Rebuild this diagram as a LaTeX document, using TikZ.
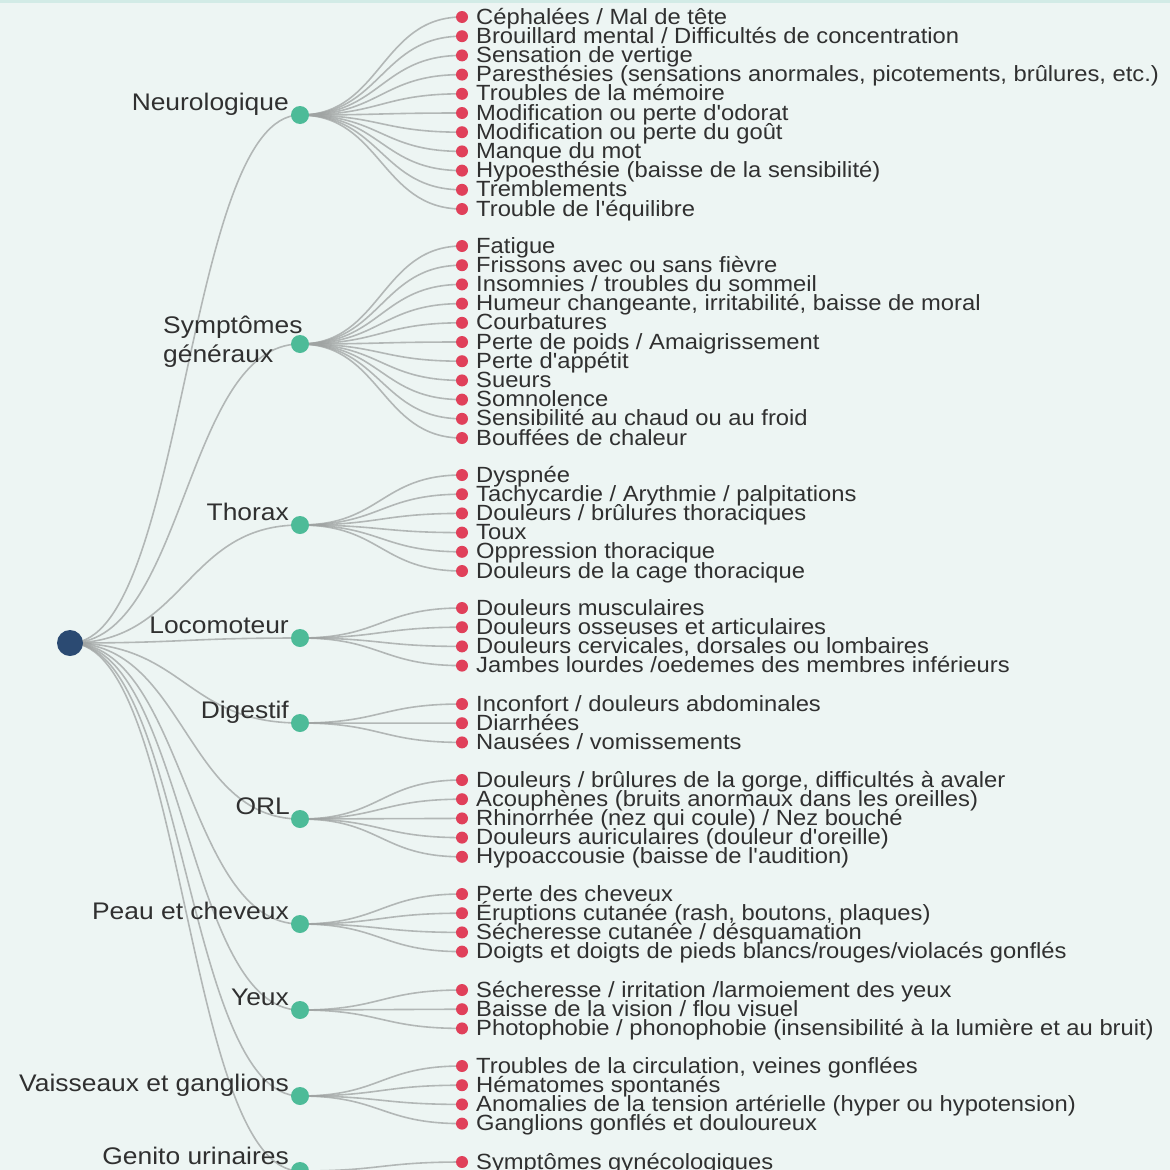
\documentclass[tikz,border=0pt]{standalone}
\usepackage{fontspec}
\setmainfont{Liberation Sans}
\newfontfamily\leaffont[FakeStretch=1.08]{Liberation Sans}
\newfontfamily\catfont[FakeStretch=1.1]{Liberation Sans}
\usetikzlibrary{calc}

\definecolor{bgmint}{HTML}{EDF5F3}
\definecolor{topband}{HTML}{D2EBE6}
\definecolor{rootblue}{HTML}{2B4A72}
\definecolor{catgreen}{HTML}{4DBB98}
\definecolor{leafred}{HTML}{E0405A}
\definecolor{txtgray}{HTML}{303030}
\definecolor{linkgray}{HTML}{9FA3A2}

\pgfdeclarelayer{bg}
\pgfdeclarelayer{links}
\pgfsetlayers{bg,links,main}

\tikzset{
  rootdot/.style={circle, fill=rootblue, minimum size=26pt, inner sep=0pt},
  catdot/.style={circle, fill=catgreen, minimum size=18pt, inner sep=0pt},
  leafdot/.style={circle, fill=leafred, minimum size=12pt, inner sep=0pt},
  leaftext/.style={anchor=base west, inner sep=0pt, text=txtgray,
    font=\leaffont\fontsize{22}{22}\selectfont},
  cattext/.style={anchor=base east, inner sep=0pt, text=txtgray,
    font=\catfont\fontsize{24}{24}\selectfont},
  link/.style={draw=linkgray, line width=1.6pt, opacity=.75},
}

% horizontal tree link: cubic curve with both controls at the middle x
\newcommand\treelink[2]{%
  \draw[link] let \p1=(#1.center), \p2=(#2.center) in
    (\p1) .. controls ({(\x1+\x2)/2},\y1) and ({(\x1+\x2)/2},\y2) .. (\p2);}

% a column of leaves hanging from one category node
\newcommand\leafgroup[3]{%
  \foreach \lt [count=\li] in {#3} {
    \pgfmathsetmacro\ly{#2+(\li-1)*19.2}
    \node[leafdot] (#1-\li) at (462,\ly) {};
    \node[leaftext] (#1-\li-t) at (476,\ly+7) {\lt};
    \begin{pgfonlayer}{links}\treelink{#1}{#1-\li}\end{pgfonlayer}
  }}

\begin{document}
\begin{tikzpicture}[x=1pt, y=-1pt]
\useasboundingbox (0,0) rectangle (1170,1170);
\begin{pgfonlayer}{bg}
  \fill[bgmint] (0,0) rectangle (1170,1170);
  \fill[topband] (0,0) rectangle (1170,2.5);
\end{pgfonlayer}

% root and categories
\node[rootdot] (root) at (70,643) {};
\node[catdot] (neu) at (300,115) {};
\node[catdot] (sym) at (300,344) {};
\node[catdot] (tho) at (300,525) {};
\node[catdot] (loc) at (300,638) {};
\node[catdot] (dig) at (300,723) {};
\node[catdot] (orl) at (300,819) {};
\node[catdot] (pea) at (300,924) {};
\node[catdot] (yeu) at (300,1010) {};
\node[catdot] (vai) at (300,1096) {};
\node[catdot] (gen) at (300,1171) {};

\node[cattext] (neu-t) at (289,110) {Neurologique};
\node[cattext, anchor=base west] (sym-t1) at (163,333) {Symptômes};
\node[cattext, anchor=base west] (sym-t2) at (163,362) {généraux};
\node[cattext] (tho-t) at (289,520) {Thorax};
\node[cattext] (loc-t) at (289,633) {Locomoteur};
\node[cattext] (dig-t) at (289,718) {Digestif};
\node[cattext] (orl-t) at (290,814) {ORL};
\node[cattext] (pea-t) at (289,919) {Peau et cheveux};
\node[cattext] (yeu-t) at (289,1005) {Yeux};
\node[cattext] (vai-t) at (289,1091) {Vaisseaux et ganglions};
\node[cattext] (gen-t) at (289,1164) {Genito urinaires};

\begin{pgfonlayer}{links}
  \foreach \c in {neu,sym,tho,loc,dig,orl,pea,yeu,vai,gen} {\treelink{root}{\c}}
\end{pgfonlayer}

% leaves
\leafgroup{neu}{17}{Céphalées / Mal de tête,
  Brouillard mental / Difficultés de concentration,
  Sensation de vertige,
  {Paresthésies (sensations anormales, picotements, brûlures, etc.)},
  Troubles de la mémoire,
  Modification ou perte d'odorat,
  Modification ou perte du goût,
  Manque du mot,
  Hypoesthésie (baisse de la sensibilité),
  Tremblements,
  Trouble de l'équilibre}

\leafgroup{sym}{246}{Fatigue,
  Frissons avec ou sans fièvre,
  Insomnies / troubles du sommeil,
  {Humeur changeante, irritabilité, baisse de moral},
  Courbatures,
  Perte de poids / Amaigrissement,
  Perte d'appétit,
  Sueurs,
  Somnolence,
  Sensibilité au chaud ou au froid,
  Bouffées de chaleur}

\leafgroup{tho}{475}{Dyspnée,
  Tachycardie / Arythmie / palpitations,
  Douleurs / brûlures thoraciques,
  Toux,
  Oppression thoracique,
  Douleurs de la cage thoracique}

\leafgroup{loc}{608}{Douleurs musculaires,
  Douleurs osseuses et articulaires,
  {Douleurs cervicales, dorsales ou lombaires},
  Jambes lourdes /oedemes des membres inférieurs}

\leafgroup{dig}{704}{Inconfort / douleurs abdominales,
  Diarrhées,
  Nausées / vomissements}

\leafgroup{orl}{780}{{Douleurs / brûlures de la gorge, difficultés à avaler},
  Acouphènes (bruits anormaux dans les oreilles),
  Rhinorrhée (nez qui coule) / Nez bouché,
  Douleurs auriculaires (douleur d'oreille),
  Hypoaccousie (baisse de l'audition)}

\leafgroup{pea}{894}{Perte des cheveux,
  {Éruptions cutanée (rash, boutons, plaques)},
  Sécheresse cutanée / désquamation,
  Doigts et doigts de pieds blancs/rouges/violacés gonflés}

\leafgroup{yeu}{990}{Sécheresse / irritation /larmoiement des yeux,
  Baisse de la vision / flou visuel,
  Photophobie / phonophobie (insensibilité à la lumière et au bruit)}

\leafgroup{vai}{1066}{{Troubles de la circulation, veines gonflées},
  Hématomes spontanés,
  Anomalies de la tension artérielle (hyper ou hypotension),
  Ganglions gonflés et douloureux}

\leafgroup{gen}{1162}{Symptômes gynécologiques}
\end{tikzpicture}
\end{document}
